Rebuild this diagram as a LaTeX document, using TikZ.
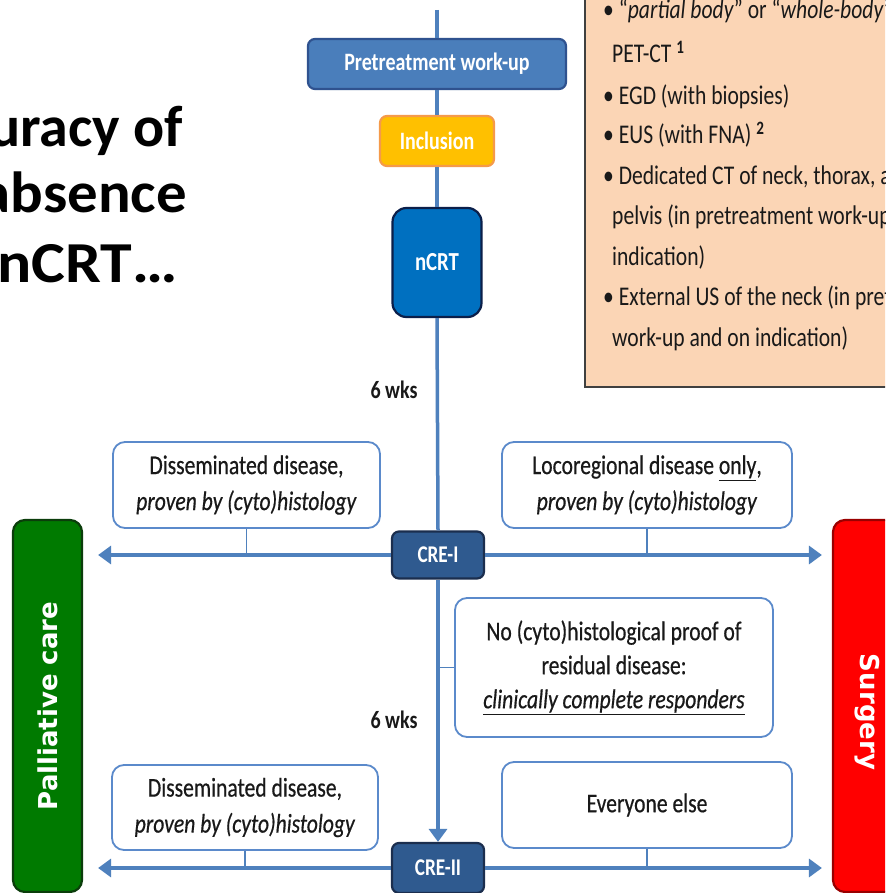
\documentclass[tikz,border=0pt]{standalone}
\usepackage{fontspec}
\setmainfont{Carlito}[FakeStretch=0.8]
\newfontfamily\boxfont{Carlito}[FakeStretch=0.8, UprightFeatures={FakeBold=0.5}, ItalicFeatures={FakeBold=0.5}]
\newfontfamily\titlefontA{Carlito}
\newfontfamily\titlefontB{Carlito}[FakeStretch=1.05]
\newfontfamily\titlefontC{Carlito}[FakeStretch=1.1]
\newfontfamily\sidefont{DejaVu Sans}
\usetikzlibrary{arrows.meta}
\definecolor{lineblue}{HTML}{4F81BD}
\definecolor{boxblue}{HTML}{5B8ACB}
\definecolor{prefill}{HTML}{4A7EBB}
\definecolor{predraw}{HTML}{2F528F}
\definecolor{inclfill}{HTML}{FFC000}
\definecolor{incldraw}{HTML}{F59A4A}
\definecolor{ncrtfill}{HTML}{0070C0}
\definecolor{ncrtdraw}{HTML}{0B1F4A}
\definecolor{crefill}{HTML}{2F5A8F}
\definecolor{credraw}{HTML}{1B2E4E}
\definecolor{peachfill}{HTML}{FBD5B5}
\definecolor{peachdraw}{HTML}{404040}
\definecolor{pallfill}{HTML}{007A00}
\definecolor{palldraw}{HTML}{0B3D0B}
\definecolor{surgfill}{HTML}{FF0000}
\definecolor{surgdraw}{HTML}{9A0000}
\begin{document}
\begin{tikzpicture}[x=1pt,y=-1pt,
  flow/.style={line width=3.5pt, draw=lineblue},
  arr/.style={line width=4pt, draw=lineblue, -{Triangle[length=13pt,width=18pt]}},
  conn/.style={line width=1.6pt, draw=lineblue},
  tbox/.style={draw=boxblue, line width=1.8pt, rounded corners=12pt, fill=white, align=center, inner sep=0pt, text=black!90, font=\boxfont\fontsize{27}{36}\selectfont},
  bluebox/.style={rounded corners=7pt, line width=2.2pt, text=white, inner sep=0pt, font=\bfseries\fontsize{25}{30}\selectfont},
  peach/.style={anchor=base west, inner sep=0pt, text=black!90, font=\fontsize{27}{32}\selectfont},
  wks/.style={inner sep=0pt, text=black!90, font=\bfseries\fontsize{25}{30}\selectfont},
  ttl/.style={anchor=base east, inner sep=0pt, text=black},
  side/.style={inner sep=0pt, text=white, font=\sidefont\bfseries\fontsize{26}{30}\selectfont},
]
\useasboundingbox (0,0) rectangle (885,893);
\clip (0,0) rectangle (885,893);
\fill[white] (0,0) rectangle (885,893);

% title fragments
\node[ttl, font=\titlefontA\bfseries\fontsize{58}{60}\selectfont] (t1) at (183,147) {uracy of};
\node[ttl, font=\titlefontB\bfseries\fontsize{58}{60}\selectfont] (t2) at (187,213) {absence};
\node[ttl, font=\titlefontC\bfseries\fontsize{58}{60}\selectfont] (t3) at (178,282) {nCRT…};

% peach list box
\node[draw=peachdraw, fill=peachfill, line width=2pt, minimum width=320pt, minimum height=402pt, inner sep=0pt] (list) at (745,186) {};
\node[peach] (l1) at (603,19) {• “\textit{partial body}” or “\textit{whole-body}”};
\node[peach] (l2) at (612,63) {PET-CT \textsuperscript{\textbf{1}}};
\node[peach] (l3) at (603,105) {• EGD (with biopsies)};
\node[peach] (l4) at (603,144) {• EUS (with FNA) \textsuperscript{\textbf{2}}};
\node[peach] (l5) at (603,185) {• Dedicated CT of neck, thorax, abdomen and};
\node[peach] (l6) at (612,225) {pelvis (in pretreatment work-up and on};
\node[peach] (l7) at (612,265) {indication)};
\node[peach] (l8) at (603,305) {• External US of the neck (in pretreatment};
\node[peach] (l9) at (612,346) {work-up and on indication)};

% central nodes
\coordinate (top) at (437,10);
\node[bluebox, fill=prefill, draw=predraw, minimum width=258pt, minimum height=50pt] (pre) at (437,64) {Pretreatment work-up};
\node[bluebox, fill=inclfill, draw=incldraw, minimum width=114pt, minimum height=50pt] (incl) at (437,141) {Inclusion};
\node[bluebox, fill=ncrtfill, draw=ncrtdraw, rounded corners=14pt, minimum width=89pt, minimum height=109pt, font=\bfseries\fontsize{26}{30}\selectfont] (ncrt) at (437,262.5) {nCRT};
\node[bluebox, fill=crefill, draw=credraw, minimum width=92pt, minimum height=47pt, font=\bfseries\fontsize{24}{30}\selectfont] (cre1) at (438,555) {CRE-I};
\node[bluebox, fill=crefill, draw=credraw, minimum width=92pt, minimum height=50pt, font=\bfseries\fontsize{24}{30}\selectfont] (cre2) at (438,868) {CRE-II};

\node[wks] (w1) at (394,390) {6 wks};
\node[wks] (w2) at (394,720) {6 wks};

% side boxes
\node[draw=palldraw, fill=pallfill, line width=2.2pt, rounded corners=12pt, minimum width=69pt, minimum height=372pt, inner sep=0pt] (pall) at (47.5,706) {};
\node[side, rotate=90] (palltext) at (pall.center) {Palliative care};
\node[draw=surgdraw, fill=surgfill, line width=2.2pt, rounded corners=12pt, minimum width=68pt, minimum height=372pt, inner sep=0pt] (surg) at (867,706) {};
\node[side, rotate=-90] (surgtext) at (867,712) {Surgery};

% text boxes
\node[tbox, minimum width=267pt, minimum height=86pt] (dis1) at (246.5,485) {Disseminated disease,\\ \textit{proven by (cyto)histology}};
\node[tbox, minimum width=290pt, minimum height=86pt] (loc1) at (647,485) {Locoregional disease \underline{only},\\ \textit{proven by (cyto)histology}};
\node[tbox, minimum width=318pt, minimum height=139pt, font=\boxfont\fontsize{27}{34}\selectfont] (nocyto) at (614,667.5) {No (cyto)histological proof of\\ residual disease:\\ \underline{\textit{clinically complete responders}}};
\node[tbox, minimum width=266pt, minimum height=85pt] (dis2) at (245,807.5) {Disseminated disease,\\ \textit{proven by (cyto)histology}};
\node[tbox, minimum width=290pt, minimum height=86pt] (every) at (647,805) {Everyone else};

% main flow
\draw[flow] (top) -- (pre.north);
\draw[flow] (pre.south) -- (incl.north);
\draw[flow] (incl.south) -- (ncrt.north);
\draw[flow] (ncrt.south) -- (cre1.north);
\draw[arr] (cre1.south) -- (cre2.north);

% branches
\draw[arr, shorten >=15pt] (cre1.west) -- (pall.east |- cre1.west);
\draw[arr, shorten >=10pt] (cre1.east) -- (surg.west |- cre1.east);
\draw[arr, shorten >=15pt] (cre2.west) -- (pall.east |- cre2.west);
\draw[arr, shorten >=10pt] (cre2.east) -- (surg.west |- cre2.east);

% connectors
\draw[conn] (dis1.south) -- (dis1.south |- cre1.west);
\draw[conn] (loc1.south) -- (loc1.south |- cre1.east);
\draw[conn] (nocyto.west) -- (nocyto.west -| cre1.south);
\draw[conn] (dis2.south) -- (dis2.south |- cre2.west);
\draw[conn] (every.south) -- (every.south |- cre2.east);
\end{tikzpicture}
\end{document}
